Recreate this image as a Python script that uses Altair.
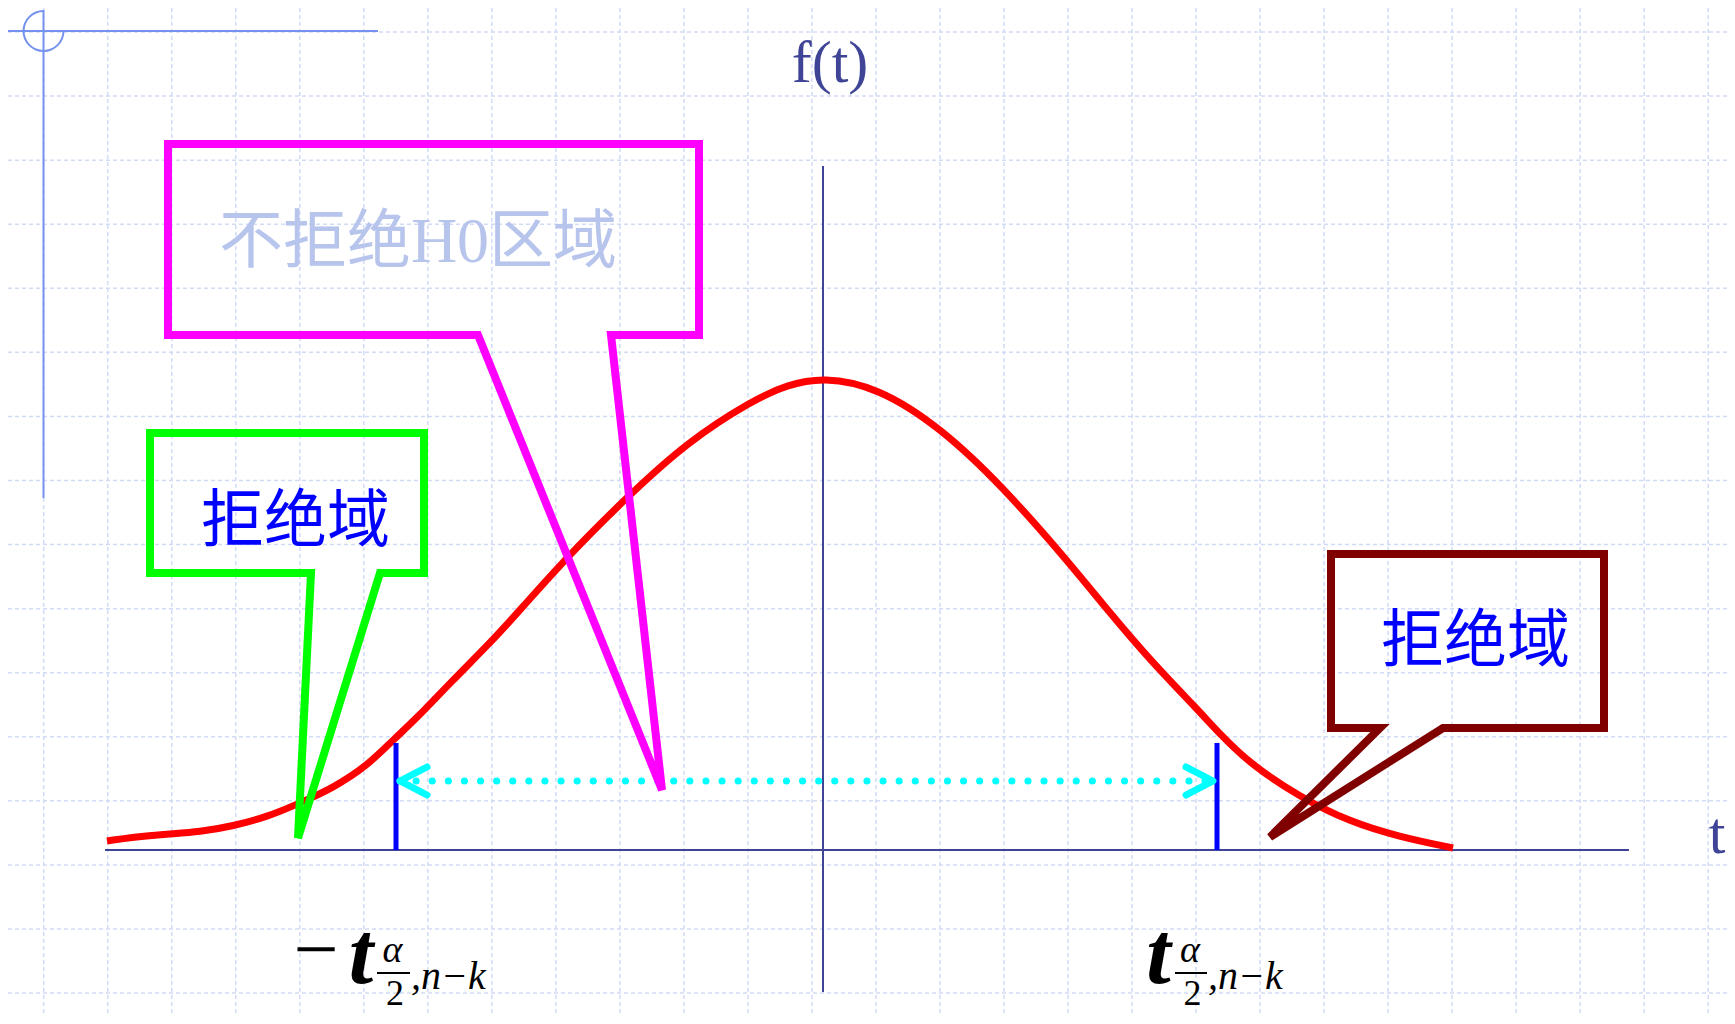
import math
import altair as alt
import pandas as pd

# ---------------- data (t units horizontally, density f(t) vertically) ----------------
curve_t = [-7.16, -6.90, -6.56, -6.23, -5.90, -5.56, -5.23, -4.90, -4.56, -4.30, -4.06,
           -3.73, -3.30, -3.03, -2.56, -1.96, -1.36, -0.70, -0.36, 0.00, 0.54, 1.17,
           1.80, 2.44, 2.87, 3.27, 3.77, 3.94, 4.27, 4.77, 5.27, 5.77, 6.30]
curve_f = [0.009, 0.013, 0.016, 0.018, 0.024, 0.033, 0.047, 0.062, 0.084, 0.110, 0.132,
           0.167, 0.210, 0.240, 0.293, 0.353, 0.408, 0.450, 0.465, 0.473, 0.463, 0.423,
           0.363, 0.290, 0.237, 0.190, 0.138, 0.119, 0.086, 0.053, 0.028, 0.013, 0.002]

crit_t = [-4.27, 3.94]          # -t(a/2,n-k), t(a/2,n-k)
crit_top = 0.107

arrow_t = [-4.23, 3.90]
arrow_f = 0.069
arrow_left_t = [-3.96, -4.23, -3.96]
arrow_right_t = [3.63, 3.90, 3.63]
arrow_head_f = [0.083, 0.069, 0.055]

# callout boxes (outline vertices)
keep_box_t = [-6.55, -1.24, -1.24, -2.12, -1.61, -3.45, -6.55]
keep_box_f = [0.706, 0.706, 0.515, 0.515, 0.060, 0.515, 0.515]
left_box_t = [-6.73, -3.99, -3.99, -4.43, -5.25, -5.12, -6.73]
left_box_f = [0.417, 0.417, 0.277, 0.277, 0.012, 0.277, 0.277]
right_box_t = [5.08, 7.81, 7.81, 6.20, 4.47, 5.57, 5.08]
right_box_f = [0.296, 0.296, 0.122, 0.122, 0.013, 0.122, 0.122]

# axes
h_axis_t = [-7.18, 8.06]
v_axis_f = [0.684, -0.142]

# texts
axis_labels = ["f(t)", "t"]
axis_label_t = [0.07, 8.94]
axis_label_f = [0.768, -0.003]
keep_label = ["不拒绝H0区域"]
keep_label_t = [-4.05]
keep_label_f = [0.588]
reject_labels = ["拒绝域", "拒绝域"]
reject_label_t = [-5.275, 6.525]
reject_label_f = [0.309, 0.189]

# critical-value labels:  -t_{alpha/2, n-k}  and  t_{alpha/2, n-k}
minus_t, minus_f = [-5.07], [-0.126]
big_t_t, big_t_f = [-4.62, 3.355], [-0.133, -0.133]
alpha_t, alpha_f = [-4.305, 3.67], [-0.112, -0.112]
frac_x1 = [-4.46, 3.52]
frac_x2 = [-4.13, 3.84]
frac_f = [-0.123, -0.123]
two_t, two_f = [-4.28, 3.695], [-0.155, -0.155]
sub_t, sub_f = [-4.12, 3.85], [-0.139, -0.139]

# page decoration (corner mark) and background grid
corner_x = -7.795
corner_y = 0.819
corner_h = [-8.20, -4.45]
corner_v = [0.840, 0.352]
grid_x0, grid_dx, grid_nx = -7.793, 0.6402, 27
grid_y0, grid_dy, grid_ny = 0.818, 0.06407, 16

# ---------------- chart ----------------
W, H = 1719, 1008
xs = alt.Scale(domain=[-8.15, -8.15 + W / 100], nice=False, zero=False)
ys = alt.Scale(domain=[0.842 - H / 1000, 0.842], nice=False, zero=False)


def X(f="x"):
    return alt.X(f"{f}:Q", scale=xs, axis=None)


def Y(f="y"):
    return alt.Y(f"{f}:Q", scale=ys, axis=None)


NAVY = "#3f4497"
DECO = "#7592ee"
GRID = "#d2dbf6"

layers = []

# grid
gx = pd.DataFrame({"x": [grid_x0 + i * grid_dx for i in range(grid_nx)]})
gy = pd.DataFrame({"y": [grid_y0 - i * grid_dy for i in range(grid_ny)]})
layers.append(alt.Chart(gx).mark_rule(color=GRID, strokeWidth=1.5, strokeDash=[4, 3]).encode(x=X()))
layers.append(alt.Chart(gy).mark_rule(color=GRID, strokeWidth=1.5, strokeDash=[4, 3]).encode(y=Y()))

# corner decoration
layers.append(alt.Chart(pd.DataFrame({"x": [corner_h[0]], "x2": [corner_h[1]], "y": [corner_y]}))
              .mark_rule(color=DECO, strokeWidth=2).encode(x=X(), x2="x2:Q", y=Y()))
layers.append(alt.Chart(pd.DataFrame({"x": [corner_x], "y": [corner_v[0]], "y2": [corner_v[1]]}))
              .mark_rule(color=DECO, strokeWidth=2).encode(x=X(), y=Y(), y2="y2:Q"))
layers.append(alt.Chart(pd.DataFrame({"x": [corner_x], "y": [corner_y]}))
              .mark_arc(radius=21, radius2=19, theta=math.pi / 2, theta2=2 * math.pi, color=DECO)
              .encode(x=X(), y=Y()))

# axes
layers.append(alt.Chart(pd.DataFrame({"x": [h_axis_t[0]], "x2": [h_axis_t[1]], "y": [0.0]}))
              .mark_rule(color=NAVY, strokeWidth=2).encode(x=X(), x2="x2:Q", y=Y()))
layers.append(alt.Chart(pd.DataFrame({"x": [0.0], "y": [v_axis_f[0]], "y2": [v_axis_f[1]]}))
              .mark_rule(color=NAVY, strokeWidth=2).encode(x=X(), y=Y(), y2="y2:Q"))

# density curve
curve = pd.DataFrame({"x": curve_t, "y": curve_f, "i": range(len(curve_t))})
layers.append(alt.Chart(curve).mark_line(color="#ff0000", strokeWidth=7, interpolate="basis",
                                         strokeCap="butt")
              .encode(x=X(), y=Y(), order="i:Q"))

# critical value lines
layers.append(alt.Chart(pd.DataFrame({"x": crit_t, "y": [0.0, 0.0], "y2": [crit_top, crit_top]}))
              .mark_rule(color="#0000ff", strokeWidth=5).encode(x=X(), y=Y(), y2="y2:Q"))

# dotted double arrow
layers.append(alt.Chart(pd.DataFrame({"x": arrow_t, "y": [arrow_f, arrow_f], "i": [0, 1]}))
              .mark_line(color="#00ffff", strokeWidth=7, strokeDash=[0.1, 16], strokeCap="round")
              .encode(x=X(), y=Y(), order="i:Q"))
for head in (arrow_left_t, arrow_right_t):
    layers.append(alt.Chart(pd.DataFrame({"x": head, "y": arrow_head_f, "i": [0, 1, 2]}))
                  .mark_line(color="#00ffff", strokeWidth=7, strokeCap="round", strokeJoin="round")
                  .encode(x=X(), y=Y(), order="i:Q"))


# callout boxes
def outline(ts, fs, color):
    pts_t = ts + ts[:2]
    pts_f = fs + fs[:2]
    df = pd.DataFrame({"x": pts_t, "y": pts_f, "i": range(len(pts_t))})
    return (alt.Chart(df).mark_line(color=color, strokeWidth=8, strokeJoin="miter",
                                     strokeMiterLimit=4, strokeCap="butt")
            .encode(x=X(), y=Y(), order="i:Q"))


layers.append(outline(keep_box_t, keep_box_f, "#ff00ff"))
layers.append(outline(left_box_t, left_box_f, "#00ff00"))
layers.append(outline(right_box_t, right_box_f, "#800000"))

SERIF_CJK = "Liberation Serif, Noto Sans CJK SC"


def text_layer(ts, fs, labels, **kw):
    df = pd.DataFrame({"x": ts, "y": fs, "label": labels})
    props = dict(baseline="alphabetic", align="center")
    props.update(kw)
    return alt.Chart(df).mark_text(**props).encode(x=X(), y=Y(), text="label:N")


layers.append(text_layer(axis_label_t, axis_label_f, axis_labels, font="Liberation Serif",
                         fontSize=60, color=NAVY))
layers.append(text_layer(keep_label_t, keep_label_f, keep_label, font=SERIF_CJK,
                         fontSize=64, color="#b7c4ec"))
layers.append(text_layer(reject_label_t, reject_label_f, reject_labels, font=SERIF_CJK,
                         fontSize=63, color="#0000ff"))

# critical value labels
layers.append(text_layer(minus_t, minus_f, ["−"], font="Liberation Serif", fontSize=80, color="black"))
layers.append(text_layer(big_t_t, big_t_f, ["t", "t"], font="Liberation Serif", fontSize=88,
                         fontStyle="italic", fontWeight="bold", color="black"))
layers.append(text_layer(alpha_t, alpha_f, ["α", "α"], font="Liberation Serif", fontSize=38,
                         fontStyle="italic", color="black"))
layers.append(text_layer(two_t, two_f, ["2", "2"], font="Liberation Serif", fontSize=36, color="black"))
layers.append(text_layer(sub_t, sub_f, [",n−k", ",n−k"], font="Liberation Serif", fontSize=40,
                         fontStyle="italic", align="left", color="black"))
layers.append(alt.Chart(pd.DataFrame({"x": frac_x1, "x2": frac_x2, "y": frac_f}))
              .mark_rule(color="black", strokeWidth=2).encode(x=X(), x2="x2:Q", y=Y()))

chart = (alt.layer(*layers)
         .properties(width=W, height=H, padding=0, autosize=alt.AutoSizeParams(type="none"),
                     background="white")
         .configure_view(stroke=None))

chart.save("out.html", embed_options={"renderer": "svg", "actions": False})
